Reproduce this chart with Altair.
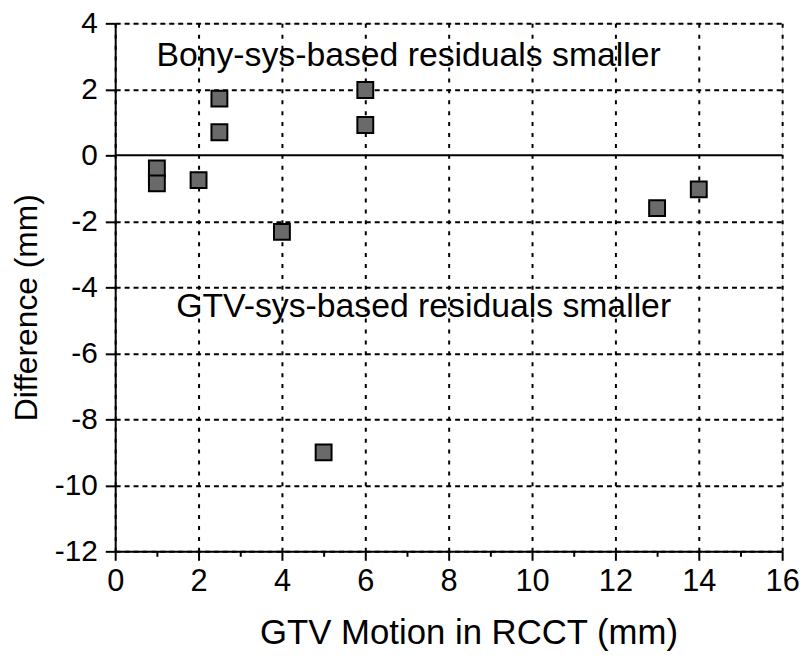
import altair as alt
import pandas as pd

# data
motion = [1, 1, 2, 2.5, 2.5, 4, 5, 6, 6, 13, 14]
difference = [-0.4, -0.85, -0.75, 1.72, 0.7, -2.32, -9.0, 1.98, 0.92, -1.6, -1.03]

label_text = ["Bony-sys-based residuals smaller", "GTV-sys-based residuals smaller"]
label_x = [7.04, 7.4]
label_y = [2.72, -4.9]

x_ticks = list(range(0, 17))
y_ticks = list(range(-12, 5))

pts = pd.DataFrame({"motion": motion, "difference": difference})
labels = pd.DataFrame({"text": label_text, "x": label_x, "y": label_y})
zero = pd.DataFrame({"y": [0]})

FONT = "Liberation Sans"

x_scale = alt.Scale(domain=[0, 16], nice=False, zero=False)
y_scale = alt.Scale(domain=[-12, 4], nice=False, zero=False)

x_axis = alt.Axis(
    values=x_ticks,
    title="GTV Motion in RCCT (mm)",
    labelExpr="datum.value % 2 ? '' : toString(datum.value)",
    tickSize={"condition": {"test": "datum.value % 2 !== 0", "value": 5}, "value": 9},
    gridOpacity={"condition": {"test": "datum.value % 2 !== 0", "value": 0}, "value": 1},
    grid=True, gridColor="black", gridDash=[4, 7], gridWidth=2,
    domainColor="black", domainWidth=2, tickColor="black", tickWidth=2,
    labelFont=FONT, labelFontSize=31, labelColor="black", labelPadding=6,
    titleFont=FONT, titleFontSize=35, titleFontWeight="normal", titleColor="black",
    titleX=356, titleY=93, titleAlign="center", titleBaseline="alphabetic",
    labelFlush=False, labelOverlap=False,
)
y_axis = alt.Axis(
    values=y_ticks,
    title="Difference (mm)",
    labelExpr="datum.value % 2 ? '' : toString(datum.value)",
    tickSize={"condition": {"test": "datum.value % 2 !== 0", "value": 6}, "value": 10},
    gridOpacity={"condition": {"test": "datum.value % 2 !== 0 || datum.value == 0", "value": 0}, "value": 1},
    grid=True, gridColor="black", gridDash=[5, 4], gridWidth=2,
    domainColor="black", domainWidth=2, tickColor="black", tickWidth=2,
    labelFont=FONT, labelFontSize=30, labelColor="black", labelPadding=8,
    titleFont=FONT, titleFontSize=32, titleFontWeight="normal", titleColor="black",
    titleX=-79, titleY=286, titleAngle=270, titleAlign="center", titleBaseline="alphabetic",
    labelFlush=False, labelOverlap=False,
)

points = alt.Chart(pts).mark_point(
    shape="square", filled=True, fill="#6a6a6a", stroke="black",
    strokeWidth=2, size=256, opacity=1
).encode(
    x=alt.X("motion:Q", scale=x_scale, axis=x_axis),
    y=alt.Y("difference:Q", scale=y_scale, axis=y_axis),
)

zero_line = alt.Chart(zero).mark_rule(color="black", strokeWidth=2).encode(
    y=alt.Y("y:Q", scale=y_scale)
)

texts = alt.Chart(labels).mark_text(
    font=FONT, fontSize=34, color="black", align="center", baseline="alphabetic"
).encode(
    x=alt.X("x:Q", scale=x_scale),
    y=alt.Y("y:Q", scale=y_scale),
    text="text:N",
)

chart = alt.layer(zero_line, texts, points).properties(
    width=672, height=532,
    autosize=alt.AutoSizeParams(type="none"),
    padding={"left": 108, "top": 13, "right": 20, "bottom": 104},
).configure_view(stroke="black", strokeWidth=2).configure(background="white")

chart.save("out.html", embed_options={"renderer": "svg", "actions": False})
